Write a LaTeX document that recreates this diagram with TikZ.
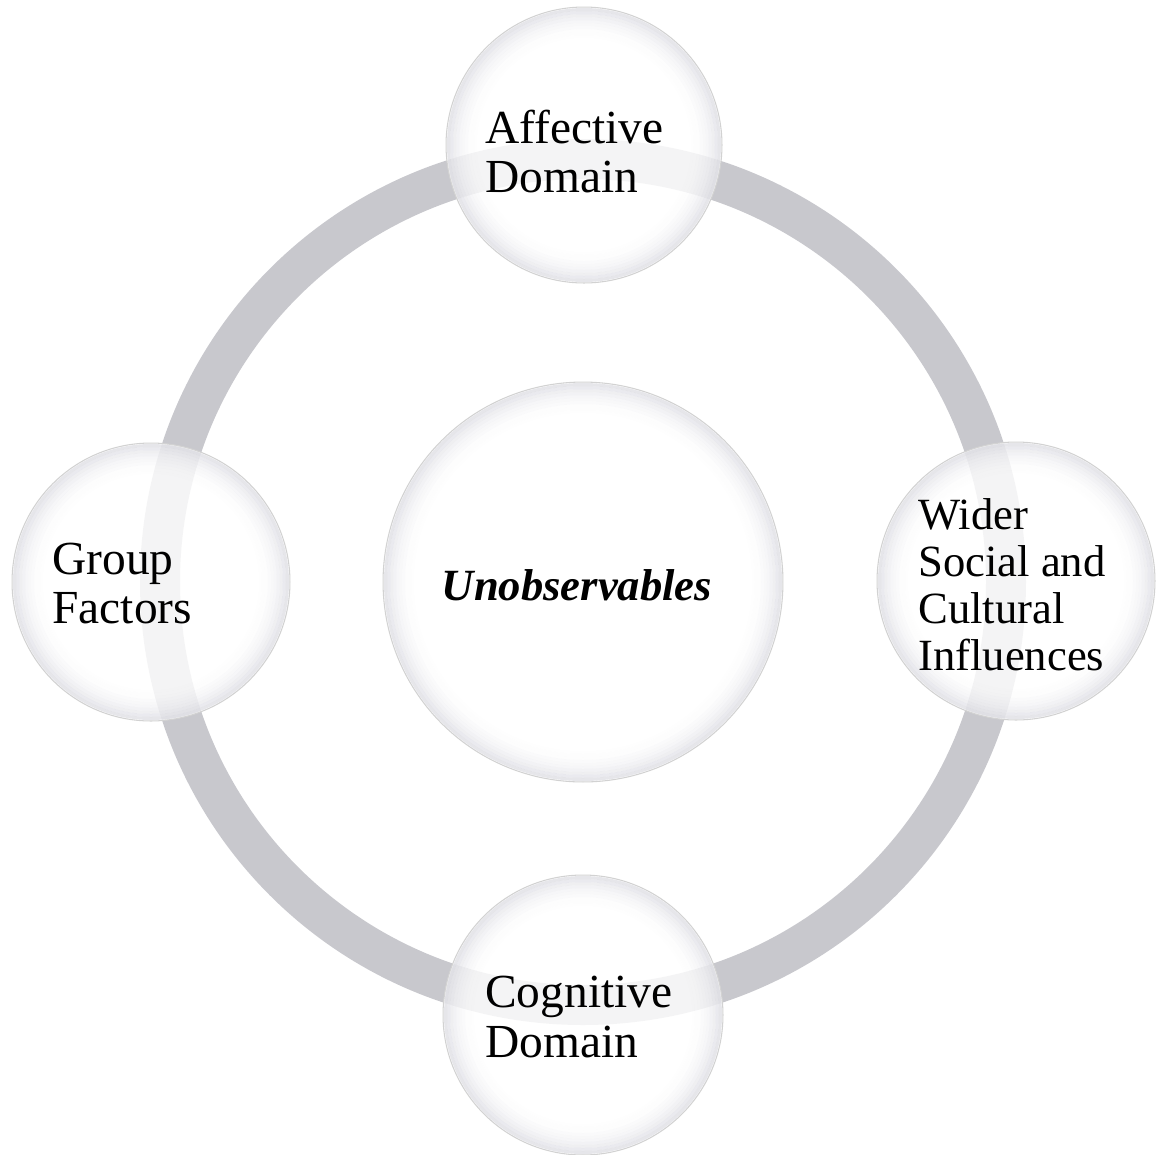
\documentclass[tikz,border=0pt]{standalone}
\usepackage{fontspec}
\setmainfont{Liberation Serif}
\definecolor{ringgray}{RGB}{200,200,205}
\definecolor{rimgray}{RGB}{190,190,202}
\begin{document}
\begin{tikzpicture}[x=0.02cm,y=-0.02cm,
  bubble/.style={circle,fill=white,fill opacity=0.8,draw=gray!35,line width=0.6pt,inner sep=0pt},
  domtext/.style={anchor=west,align=left,inner sep=0pt,font=\fontsize{27}{27.9}\selectfont}]
\useasboundingbox (0,0) rectangle (1160,1154);

% ring
\draw[ringgray,line width=0.8cm] (583,582) circle (423);

% bubbles
\node[bubble,minimum size=8cm] (unobs) at (583,582) {};
\node[bubble,minimum size=5.52cm] (affect) at (584,145) {};
\node[bubble,minimum size=5.56cm] (group) at (151,582) {};
\node[bubble,minimum size=5.56cm] (wider) at (1016,581) {};
\node[bubble,minimum size=5.6cm] (cognit) at (583,1015) {};

% soft rim inside each bubble
\foreach \n/\r in {unobs/200,affect/138,group/139,wider/139,cognit/140}
  \foreach \k in {0,...,9}
    \draw[rimgray,line width=0.06cm,draw opacity={0.38*(1-\k/10)^2}] (\n.center) circle (\r-2.5-\k*3);

% texts
\node[font=\fontsize{25.4}{26}\selectfont\bfseries\itshape] (unobstext) at (577,585) {Unobservables};
\node[domtext] (affecttext) at (485,152) {Affective\\Domain};
\node[domtext] (grouptext) at (52,584) {Group\\Factors};
\node[domtext,font=\fontsize{25.4}{26.7}\selectfont] (widertext) at (918,585) {Wider\\Social and\\Cultural\\Influences};
\node[domtext] (cognittext) at (485,1017) {Cognitive\\Domain};
\end{tikzpicture}
\end{document}
